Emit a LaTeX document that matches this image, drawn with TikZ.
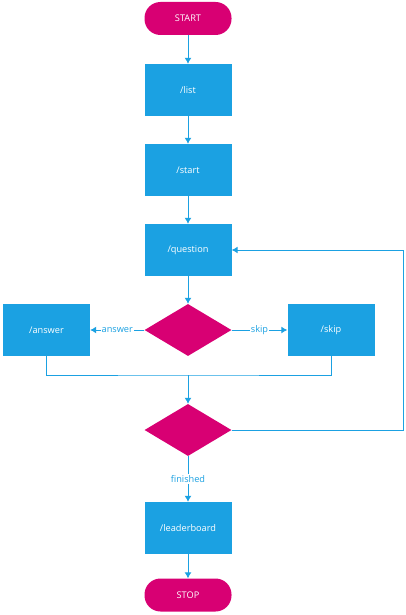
\documentclass[tikz,border=0pt]{standalone}
\usepackage{fontspec}
\setmainfont{Open Sans}
\usetikzlibrary{shapes.geometric,arrows.meta}
\definecolor{flow_blue}{HTML}{1BA1E2}
\definecolor{flow_pink}{HTML}{D80073}
\begin{document}
\begin{tikzpicture}[x=1pt,y=-1pt,font=\fontsize{9.2}{11}\selectfont]
		\tikzstyle term_style=[fill=flow_pink,text=white,rectangle,rounded corners=16pt,minimum width=87pt,minimum height=33pt];
		\tikzstyle proc_style=[fill=flow_blue,text=white,rectangle,minimum width=87pt,minimum height=52pt];
		\tikzstyle dec_style=[fill=flow_pink,diamond,aspect=1.67,minimum width=87pt,minimum height=52pt,inner sep=0pt];
		\tikzstyle line_style=[draw=flow_blue,line width=1pt];
		\tikzstyle arrow_style=[line_style,-{Latex[length=6pt,width=7pt]}];
		\tikzstyle lbl_style=[fill=white,text=flow_blue,inner sep=1pt];
		\useasboundingbox (0,0) rectangle (405,615);

		% NODES
		\node[term_style] (start) at (188,18.5) {START};
		\node[proc_style] (list) at (188,90) {/list};
		\node[proc_style] (begin) at (188,170) {/start};
		\node[proc_style] (question) at (188,250) {/question};
		\node[dec_style] (choice) at (188,330) {};
		\node[proc_style] (answer) at (46.5,330) {/answer};
		\node[proc_style] (skip) at (331,330) {/skip};
		\node[dec_style] (done) at (188,430) {};
		\node[proc_style] (board) at (188,528) {/leaderboard};
		\node[term_style] (stop) at (188,595) {STOP};

		\coordinate (merge) at (188,375);
		\coordinate (loop) at (403,250);

		% CONNECTORS
		\draw[arrow_style] (start) -- (list);
		\draw[arrow_style] (list) -- (begin);
		\draw[arrow_style] (begin) -- (question);
		\draw[arrow_style] (question) -- (choice);
		\draw[arrow_style] (choice) -- node[lbl_style]{answer} (answer);
		\draw[arrow_style] (choice) -- node[lbl_style]{skip} (skip);
		\draw[line_style] (answer.south) |- (merge) -| (skip.south);
		\draw[arrow_style] (merge) -- (done);
		\draw[arrow_style] (done.east) -| (loop) -- (question.east);
		\draw[arrow_style] (done) -- node[lbl_style]{finished} (board);
		\draw[arrow_style] (board) -- (stop);
\end{tikzpicture}
\end{document}
